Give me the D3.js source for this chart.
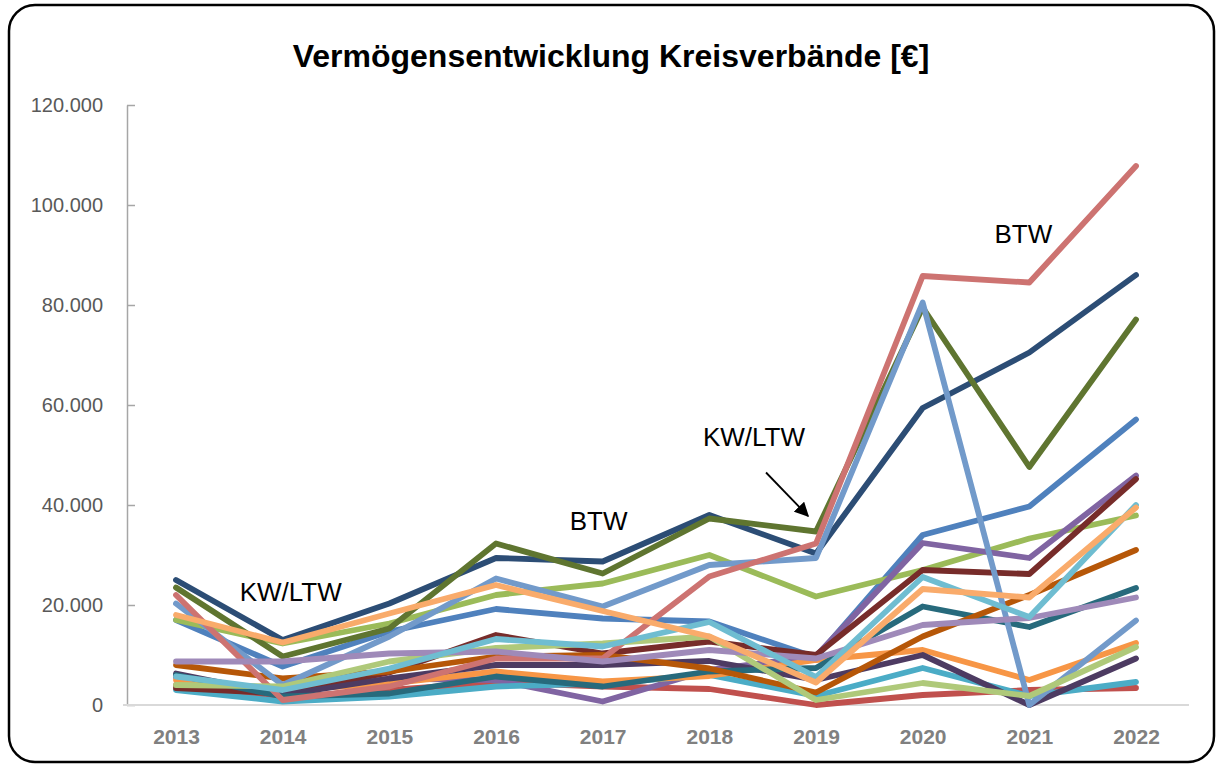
<!DOCTYPE html>
<html>
<head>
<meta charset="utf-8">
<script src="https://cdn.jsdelivr.net/npm/d3@7"></script>
<style>
  body { margin: 0; background: #fff; }
  svg { display: block; font-family: "Liberation Sans", Arial, sans-serif; }
</style>
</head>
<body>
<svg id="chart" width="1217" height="765"></svg>
<script>
const years = [2013, 2014, 2015, 2016, 2017, 2018, 2019, 2020, 2021, 2022];
const yTicks = [0, 20000, 40000, 60000, 80000, 100000, 120000];

// one array per Kreisverband, in drawing order
const kvBlue        = [17000, 7700, 14700, 19200, 17300, 16700, 9500, 34000, 39700, 57100];
const kvRed         = [4000, 1500, 3000, 4500, 3700, 3200, 0, 2000, 3000, 3400];
const kvGreen       = [17000, 12300, 16300, 22000, 24300, 30000, 21700, 27000, 33300, 37900];
const kvPurple      = [5500, 2300, 5300, 5000, 700, 7000, 9800, 32400, 29400, 45900];
const kvAqua        = [3000, 700, 1700, 3700, 4300, 6000, 1800, 7400, 1800, 4600];
const kvOrange      = [5000, 3000, 4300, 6700, 4700, 5800, 9000, 11000, 5000, 12400];
const kvDarkBlue    = [25000, 13000, 20300, 29400, 28700, 38000, 30300, 59400, 70500, 86000];
const kvDarkRed     = [3400, 2300, 6500, 14000, 10300, 12700, 10000, 27000, 26200, 45200];
const kvDarkGreen   = [23500, 9700, 15300, 32300, 26300, 37300, 34700, 79500, 47600, 77100];
const kvDarkPurple  = [6300, 2000, 5300, 8000, 8000, 8800, 5000, 10000, 0, 9300];
const kvDarkAqua    = [6000, 1700, 2300, 5700, 3700, 6700, 7400, 19700, 15600, 23400];
const kvDarkOrange  = [8000, 5300, 6700, 9700, 10000, 7300, 2500, 13700, 22000, 31000];
const kvLightBlue   = [20300, 4000, 13700, 25300, 19700, 28000, 29400, 80500, 0, 16900];
const kvLightRed    = [22000, 1000, 3700, 9300, 9300, 25700, 32300, 85800, 84500, 107800];
const kvLightGreen  = [4000, 3700, 8700, 11400, 12300, 13700, 1000, 4400, 1800, 11600];
const kvLightPurple = [8700, 8700, 10300, 10700, 8700, 11000, 9300, 16000, 17400, 21500];
const kvLightAqua   = [5700, 3000, 7300, 13200, 11700, 16600, 5600, 25600, 17600, 40000];
const kvLightOrange = [18000, 12500, 18300, 24000, 18800, 13700, 4500, 23200, 21500, 39500];

const seriesValues = [kvBlue, kvRed, kvGreen, kvPurple, kvAqua, kvOrange,
  kvDarkBlue, kvDarkRed, kvDarkGreen, kvDarkPurple, kvDarkAqua, kvDarkOrange,
  kvLightBlue, kvLightRed, kvLightGreen, kvLightPurple, kvLightAqua, kvLightOrange];
const seriesColors = ["#4F81BD", "#C0504D", "#9BBB59", "#8064A2", "#4BACC6", "#F79646",
  "#2C4D75", "#772C2A", "#5F7530", "#4D3B62", "#276A7C", "#B65708",
  "#729ACA", "#CD7371", "#AFC97A", "#9F8AB9", "#6FBDD1", "#F9AB6B"];

// election notes: label, year it sits near, value at its baseline
const noteTexts  = ["KW/LTW", "BTW", "KW/LTW", "BTW"];
const noteYears  = [2014, 2017, 2019, 2021];
const noteValues = [20800, 35000, 51800, 92400];
const noteShift  = [8, -4, -62, -6];

const svg = d3.select("#chart");

// rounded frame
svg.append("rect")
  .attr("x", 9).attr("y", 5)
  .attr("width", 1205).attr("height", 757)
  .attr("rx", 26).attr("ry", 26)
  .attr("fill", "#fff")
  .attr("stroke", "#000")
  .attr("stroke-width", 2.5);

svg.append("text")
  .attr("x", 611).attr("y", 67)
  .attr("text-anchor", "middle")
  .attr("font-size", 32)
  .attr("font-weight", "bold")
  .attr("fill", "#000")
  .text("Vermögensentwicklung Kreisverbände [€]");

const x = d3.scalePoint().domain(years).range([176, 1136]);
const y = d3.scaleLinear().domain([0, 120000]).range([705, 105]);

const de = d3.formatLocale({ decimal: ",", thousands: ".", grouping: [3], currency: ["", " €"] });

// y axis, ticks pointing into the plot
const yAxis = svg.append("g")
  .attr("transform", "translate(127,0)")
  .call(d3.axisLeft(y).tickValues(yTicks).tickFormat(de.format(",")).tickSizeInner(-8).tickSizeOuter(0).tickPadding(24));
yAxis.select(".domain").attr("stroke", "#a6a6a6").attr("stroke-width", 1.5);
yAxis.selectAll(".tick line").attr("stroke", "#a6a6a6").attr("stroke-width", 1.5);
yAxis.selectAll(".tick text")
  .attr("font-size", 20)
  .attr("font-family", "'Liberation Sans', Arial, sans-serif")
  .attr("fill", "#595959");

// x axis
const xAxis = svg.append("g")
  .attr("transform", "translate(0,705)")
  .call(d3.axisBottom(x).tickSize(0).tickPadding(24));
xAxis.select(".domain").attr("d", "M123,0H1189").attr("stroke", "#d9d9d9").attr("stroke-width", 2);
xAxis.selectAll(".tick text")
  .attr("font-size", 21)
  .attr("font-weight", "bold")
  .attr("font-family", "'Liberation Sans Narrow', 'Arial Narrow', sans-serif")
  .attr("fill", "#808080");

const line = d3.line()
  .x((d, i) => x(years[i]))
  .y(d => y(d));

svg.append("g")
  .selectAll("path")
  .data(seriesValues)
  .enter()
  .append("path")
  .attr("d", d => line(d))
  .attr("fill", "none")
  .attr("stroke", (d, i) => seriesColors[i])
  .attr("stroke-width", 5.8)
  .attr("stroke-linejoin", "round")
  .attr("stroke-linecap", "round");

svg.append("g")
  .selectAll("text")
  .data(noteTexts)
  .enter()
  .append("text")
  .attr("x", (d, i) => x(noteYears[i]) + noteShift[i])
  .attr("y", (d, i) => y(noteValues[i]))
  .attr("text-anchor", "middle")
  .attr("font-size", 26)
  .attr("fill", "#000")
  .text(d => d);

// arrow to the 2019 point
svg.append("defs").append("marker")
  .attr("id", "arrowhead")
  .attr("viewBox", "0 0 10 10")
  .attr("refX", 9).attr("refY", 5)
  .attr("markerWidth", 8).attr("markerHeight", 8)
  .attr("orient", "auto")
  .append("path")
  .attr("d", "M0,0L10,5L0,10Z")
  .attr("fill", "#000");

svg.append("line")
  .attr("x1", x(2019) - 50).attr("y1", y(46500))
  .attr("x2", x(2019) - 8).attr("y2", y(37800))
  .attr("stroke", "#000")
  .attr("stroke-width", 1.8)
  .attr("marker-end", "url(#arrowhead)");
</script>
</body>
</html>
